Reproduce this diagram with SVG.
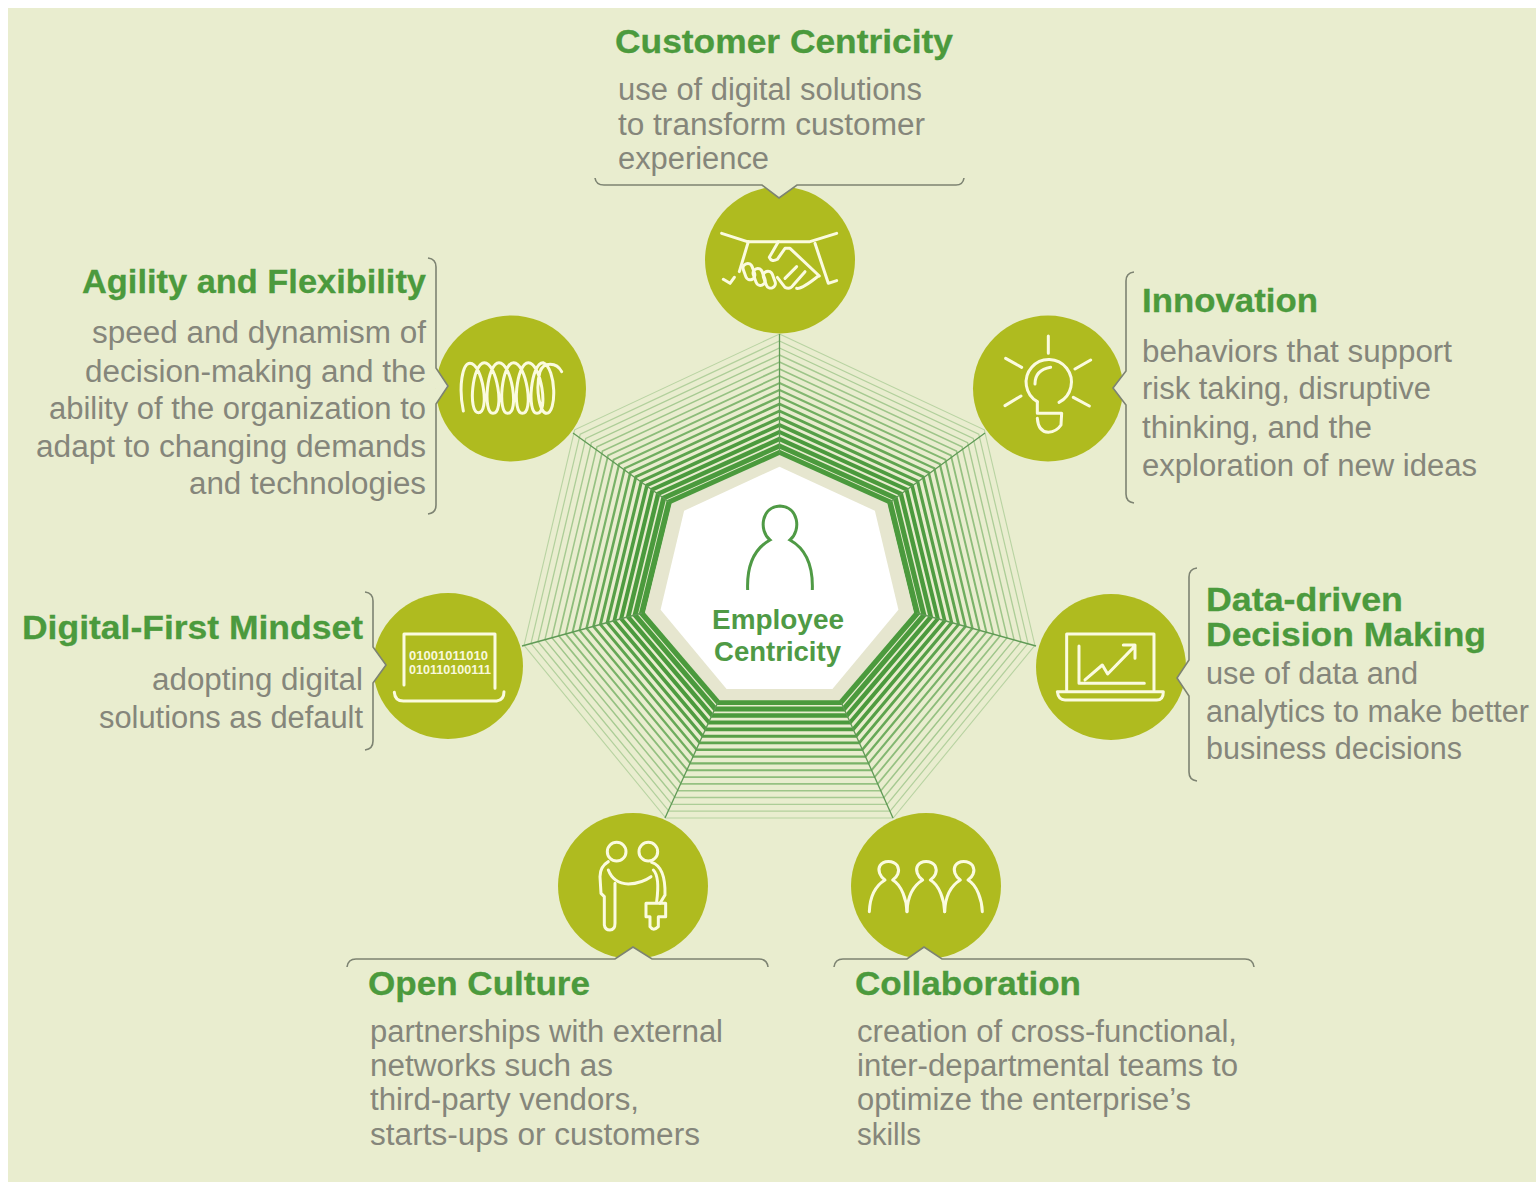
<svg xmlns="http://www.w3.org/2000/svg" width="1536" height="1182" viewBox="0 0 1536 1182">
<style>
.t{font-family:"Liberation Sans",Arial,sans-serif;font-weight:700;font-size:34px;fill:#4b9a3d;stroke:#4b9a3d;stroke-width:.3}
.b{font-family:"Liberation Sans",Arial,sans-serif;font-size:31px;fill:#85867b}
.c{font-family:"Liberation Sans",Arial,sans-serif;font-weight:700;font-size:27px;fill:#4f9a45}
.bin{font-family:"Liberation Sans",Arial,sans-serif;font-weight:700;font-size:12px;fill:#f8f8dc}
.disc{fill:#afbb1f}
.notch{fill:#e9edcf}
.br{fill:none;stroke:#7d8372;stroke-width:1.6;stroke-linejoin:miter}
.ic{fill:none;stroke:#fbfbdf;stroke-width:9;stroke-linecap:round;stroke-linejoin:round}
.ring{fill:none;stroke:#4b9a3d}
.spoke{stroke:#5f9a55;stroke-width:1.3}
</style>
<defs>
<polygon id="hept" vector-effect="non-scaling-stroke" points="0,-1 .7818,-.6235 .9749,.2225 .4339,.901 -.4339,.901 -.9749,.2225 -.7818,-.6235"/>
<path id="person" d="M88 320C90 270 110 240 135 225C120 215 112 195 120 182C130 165 160 165 172 182C182 200 170 218 158 225C185 240 200 285 201 320"/>
</defs>
<rect x="8" y="8" width="1528" height="1174" fill="#e9edcf"/>
<g id="connectors">
<g id="rings">
<use href="#hept" class="ring" style="stroke-width:1.1;opacity:.3" transform="translate(779.5 588.6) scale(262 254.6)"/>
<use href="#hept" class="ring" style="stroke-width:1.2;opacity:.34" transform="translate(779.5 588.3) scale(254.9 247.3)"/>
<use href="#hept" class="ring" style="stroke-width:1.3;opacity:.38" transform="translate(779.5 588.1) scale(247.8 240.1)"/>
<use href="#hept" class="ring" style="stroke-width:1.4;opacity:.42" transform="translate(779.5 587.8) scale(240.6 232.8)"/>
<use href="#hept" class="ring" style="stroke-width:1.5;opacity:.47" transform="translate(779.5 587.5) scale(233.5 225.5)"/>
<use href="#hept" class="ring" style="stroke-width:1.7;opacity:.52" transform="translate(779.5 587.2) scale(226.4 218.3)"/>
<use href="#hept" class="ring" style="stroke-width:1.8;opacity:.58" transform="translate(779.5 587) scale(219.3 211)"/>
<use href="#hept" class="ring" style="stroke-width:2;opacity:.64" transform="translate(779.5 586.7) scale(212.2 203.7)"/>
<use href="#hept" class="ring" style="stroke-width:2.2;opacity:.7" transform="translate(779.5 586.4) scale(205.1 196.4)"/>
<use href="#hept" class="ring" style="stroke-width:2.4;opacity:.76" transform="translate(779.5 586.2) scale(197.9 189.2)"/>
<use href="#hept" class="ring" style="stroke-width:2.6;opacity:.82" transform="translate(779.5 585.9) scale(190.8 181.9)"/>
<use href="#hept" class="ring" style="stroke-width:2.9;opacity:.88" transform="translate(779.5 585.6) scale(183.7 174.6)"/>
<use href="#hept" class="ring" style="stroke-width:3.2;opacity:.93" transform="translate(779.5 585.4) scale(176.6 167.4)"/>
<use href="#hept" class="ring" style="stroke-width:3.6;opacity:.97" transform="translate(779.5 585.1) scale(169.5 160.1)"/>
<use href="#hept" class="ring" style="stroke-width:4" transform="translate(779.5 584.8) scale(162.4 152.8)"/>
<use href="#hept" class="ring" style="stroke-width:4.5" transform="translate(779.5 584.5) scale(155.2 145.5)"/>
<use href="#hept" class="ring" style="stroke-width:5" transform="translate(779.5 584.3) scale(148.1 138.3)"/>
<use href="#hept" class="ring" style="stroke-width:6" transform="translate(779.5 584) scale(141 131)"/>
</g>
<g id="spokes" class="spoke">
<line x1="779.5" y1="453" x2="779.5" y2="334"/>
<line x1="890" y1="502" x2="985" y2="433"/>
<line x1="917" y1="613" x2="1036" y2="646"/>
<line x1="841" y1="702" x2="893" y2="818"/>
<line x1="718" y1="702" x2="665" y2="818"/>
<line x1="642" y1="613" x2="522" y2="646"/>
<line x1="669" y1="502" x2="573" y2="433"/>
</g>
</g>
<g id="center">
<use href="#hept" fill="#e6e6cf" transform="translate(779.5 584) scale(138 129)"/>
<use href="#hept" fill="#ffffff" transform="translate(779.5 583.7) scale(122 117)"/>
<path transform="translate(520 320) scale(.3333)" fill="none" stroke="#4f9a45" stroke-width="9" d="M683 810C680 730 705 685 750 660C715 630 725 560 780 558C835 560 845 630 810 660C855 685 880 730 877 810"/>
<text class="c" x="712" y="629" textLength="132" lengthAdjust="spacingAndGlyphs">Employee</text>
<text class="c" x="714" y="661" textLength="127" lengthAdjust="spacingAndGlyphs">Centricity</text>
</g>
<g id="customer-centricity">
<ellipse class="disc" cx="780" cy="260" rx="75" ry="73.5"/>
<polygon class="notch" points="762,185 779,198 797,185"/>
<path class="br" d="M595 178Q596 185 604 185H762L779 198L797 185H956Q963 185 964 178"/>
<g class="ic" transform="translate(690 170) scale(.3333)">
<path d="M95 190L172 215H360L440 190"/>
<path d="M175 215L148 305M375 220L415 340L440 332M100 328L120 340L133 322"/>
<path d="M265 215L238 262Q245 278 262 268L285 235H300L388 318"/>
<rect x="163" y="280" width="28" height="50" rx="14" transform="rotate(-20 177 305)"/>
<rect x="193" y="295" width="28" height="52" rx="14" transform="rotate(-20 207 320)"/>
<rect x="224" y="303" width="28" height="52" rx="14" transform="rotate(-20 238 329)"/>
<path d="M262 322L285 352Q300 360 310 345L345 305M285 325L320 290M320 355Q335 358 385 318"/>
</g>
<text class="t" x="615" y="53" textLength="338" lengthAdjust="spacingAndGlyphs">Customer Centricity</text>
<text class="b" x="618" y="100" textLength="304" lengthAdjust="spacingAndGlyphs">use of digital solutions</text>
<text class="b" x="618" y="135" textLength="307" lengthAdjust="spacingAndGlyphs">to transform customer</text>
<text class="b" x="618" y="169" textLength="151" lengthAdjust="spacingAndGlyphs">experience</text>
</g>
<g id="innovation">
<ellipse class="disc" cx="1048" cy="388.5" rx="75" ry="73"/>
<polygon class="notch" points="1126,371 1113,388 1126,405"/>
<path class="br" d="M1134 272Q1126 273 1126 281V371L1113 388L1126 405V494Q1126 502 1134 503"/>
<g class="ic" transform="translate(960 310) scale(.3333)">
<path d="M265 78V130M137 145L185 172M392 150L345 177M135 287L183 258M388 288L340 262"/>
<path d="M232 275A68 68 0 1 1 297 277"/>
<path d="M232 275V310H305L303 345Q290 365 265 367Q235 365 232 325"/>
<path d="M225 222Q225 180 272 172"/>
</g>
<text class="t" x="1142" y="312" textLength="176" lengthAdjust="spacingAndGlyphs">Innovation</text>
<text class="b" x="1142" y="362" textLength="310" lengthAdjust="spacingAndGlyphs">behaviors that support</text>
<text class="b" x="1142" y="399" textLength="289" lengthAdjust="spacingAndGlyphs">risk taking, disruptive</text>
<text class="b" x="1142" y="438" textLength="230" lengthAdjust="spacingAndGlyphs">thinking, and the</text>
<text class="b" x="1142" y="476" textLength="335" lengthAdjust="spacingAndGlyphs">exploration of new ideas</text>
</g>
<g id="data-driven">
<ellipse class="disc" cx="1111" cy="667" rx="75" ry="73"/>
<polygon class="notch" points="1189,660 1177,678 1189,696"/>
<path class="br" d="M1197 568Q1189 569 1189 577V660L1177 678L1189 696V772Q1189 780 1197 781"/>
<g class="ic" transform="translate(1025 580) scale(.3333)">
<path d="M125 330V162H387V330M162 198V310H358M180 300L232 255L248 282L328 200M295 195H330V235"/>
<path d="M97 335H415Q415 360 395 360H120Q100 360 97 335Z"/>
</g>
<text class="t" x="1206" y="611" textLength="197" lengthAdjust="spacingAndGlyphs">Data-driven</text>
<text class="t" x="1206" y="646" textLength="280" lengthAdjust="spacingAndGlyphs">Decision Making</text>
<text class="b" x="1206" y="684" textLength="212" lengthAdjust="spacingAndGlyphs">use of data and</text>
<text class="b" x="1206" y="722" textLength="323" lengthAdjust="spacingAndGlyphs">analytics to make better</text>
<text class="b" x="1206" y="759" textLength="256" lengthAdjust="spacingAndGlyphs">business decisions</text>
</g>
<g id="collaboration">
<ellipse class="disc" cx="926" cy="886" rx="75" ry="73"/>
<polygon class="notch" points="880,959 907,959 924,947 942,959 970,959 970,966 880,966"/>
<path class="br" d="M834 967Q835 959 843 959H907L924 947L942 959H1245Q1253 959 1254 967"/>
<g class="ic" transform="translate(840 805) scale(.3333)">
<use href="#person"/>
<use href="#person" x="113"/>
<use href="#person" x="226"/>
</g>
<text class="t" x="855" y="995" textLength="226" lengthAdjust="spacingAndGlyphs">Collaboration</text>
<text class="b" x="857" y="1042" textLength="380" lengthAdjust="spacingAndGlyphs">creation of cross-functional,</text>
<text class="b" x="857" y="1076" textLength="381" lengthAdjust="spacingAndGlyphs">inter-departmental teams to</text>
<text class="b" x="857" y="1110" textLength="334" lengthAdjust="spacingAndGlyphs">optimize the enterprise’s</text>
<text class="b" x="857" y="1145" textLength="64" lengthAdjust="spacingAndGlyphs">skills</text>
</g>
<g id="open-culture">
<ellipse class="disc" cx="633" cy="886" rx="75" ry="73"/>
<polygon class="notch" points="590,959 615,959 633,947 652,959 680,959 680,966 590,966"/>
<path class="br" d="M347 967Q348 959 356 959H615L633 947L652 959H759Q767 959 768 967"/>
<g class="ic" transform="translate(545 805) scale(.3333)">
<circle cx="215" cy="140" r="28"/>
<circle cx="310" cy="140" r="28"/>
<path d="M190 170Q165 185 165 215L168 265L178 275V360Q180 375 195 375Q210 375 210 355V235"/>
<path d="M190 195Q205 235 250 237Q290 235 318 215"/>
<path d="M320 172Q362 185 360 270L345 295M325 195Q345 215 335 290"/>
<path d="M303 295H362V335H340V365Q325 380 315 365V335H303Z"/>
</g>
<text class="t" x="368" y="995" textLength="222" lengthAdjust="spacingAndGlyphs">Open Culture</text>
<text class="b" x="370" y="1042" textLength="353" lengthAdjust="spacingAndGlyphs">partnerships with external</text>
<text class="b" x="370" y="1076" textLength="243" lengthAdjust="spacingAndGlyphs">networks such as</text>
<text class="b" x="370" y="1110" textLength="269" lengthAdjust="spacingAndGlyphs">third-party vendors,</text>
<text class="b" x="370" y="1145" textLength="330" lengthAdjust="spacingAndGlyphs">starts-ups or customers</text>
</g>
<g id="digital-first">
<ellipse class="disc" cx="448" cy="666" rx="75" ry="73"/>
<polygon class="notch" points="373,647 386,665 373,683"/>
<path class="br" d="M365 592Q373 593 373 601V647L386 665L373 683V741Q373 749 365 750"/>
<g class="ic" transform="translate(360 585) scale(.3333)">
<path d="M132 300V147H405V310"/>
<path d="M103 322Q105 348 130 348H410Q432 345 432 320"/>
</g>
<text class="bin" x="409" y="660" textLength="79" lengthAdjust="spacingAndGlyphs">01001011010</text>
<text class="bin" x="409" y="674" textLength="82" lengthAdjust="spacingAndGlyphs">010110100111</text>
<text class="t" x="22" y="639" textLength="341" lengthAdjust="spacingAndGlyphs">Digital-First Mindset</text>
<text class="b" x="152" y="690" textLength="211" lengthAdjust="spacingAndGlyphs">adopting digital</text>
<text class="b" x="99" y="728" textLength="264" lengthAdjust="spacingAndGlyphs">solutions as default</text>
</g>
<g id="agility">
<ellipse class="disc" cx="511" cy="388.5" rx="75" ry="73"/>
<polygon class="notch" points="436,368 448,386 436,404"/>
<path class="br" d="M428 258Q436 259 436 267V368L448 386L436 404V505Q436 513 428 514"/>
<g class="ic" transform="translate(425 310) scale(.3333)">
<path d="M115 303C100 230 112 160 135 160C172 160 196 308 160 308C128 308 142 158 178 158C216 158 240 310 204 310C172 310 186 158 222 158C260 158 284 310 248 310C216 310 230 158 266 158C304 158 328 310 292 310C260 310 274 158 310 158C348 158 372 310 336 310C304 310 318 158 354 158C395 175 395 310 365 310C345 310 330 240 345 185C355 155 395 155 410 185"/>
</g>
<text class="t" x="82" y="293" textLength="344" lengthAdjust="spacingAndGlyphs">Agility and Flexibility</text>
<text class="b" x="92" y="343" textLength="334" lengthAdjust="spacingAndGlyphs">speed and dynamism of</text>
<text class="b" x="85" y="382" textLength="341" lengthAdjust="spacingAndGlyphs">decision-making and the</text>
<text class="b" x="49" y="419" textLength="377" lengthAdjust="spacingAndGlyphs">ability of the organization to</text>
<text class="b" x="36" y="457" textLength="390" lengthAdjust="spacingAndGlyphs">adapt to changing demands</text>
<text class="b" x="189" y="494" textLength="237" lengthAdjust="spacingAndGlyphs">and technologies</text>
</g>
</svg>
